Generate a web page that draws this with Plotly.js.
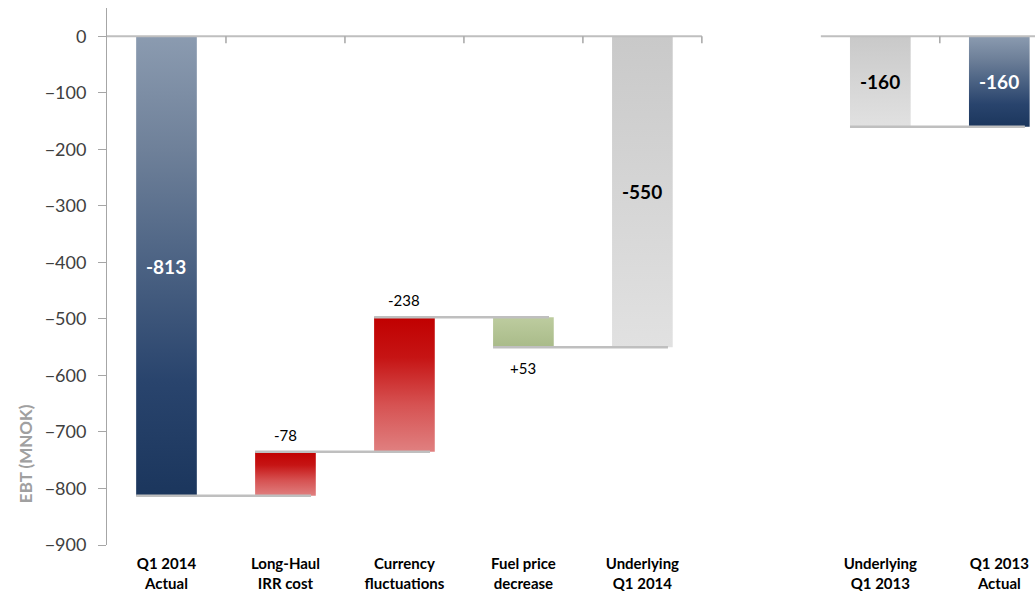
<!DOCTYPE html>
<html>
<head>
<meta charset="utf-8">
<script src="https://cdn.plot.ly/plotly-3.0.1.min.js"></script>
<style>
  html, body { margin: 0; padding: 0; background: #ffffff; overflow: hidden; }
  #chart { width: 1035px; height: 596px; }
</style>
</head>
<body>
<div id="chart"></div>
<script>
// ---------------- data ----------------
const categories = [
  'Q1 2014<br>Actual',
  'Long-Haul<br>IRR cost',
  'Currency<br>fluctuations',
  'Fuel price<br>decrease',
  'Underlying<br>Q1 2014',
  'Underlying<br>Q1 2013',
  'Q1 2013<br>Actual'
];
const xPositions = [0, 1, 2, 3, 4, 6, 7];
const values = [-813, -78, -238, 53, -550, -160, -160];
const measures = ['total', 'relative', 'relative', 'relative', 'total', 'total', 'total'];
const barKinds = ['actual', 'cost', 'cost', 'gain', 'underlying', 'underlying', 'actual'];
const valueLabels = ['-813', '-78', '-238', '+53', '-550', '-160', '-160'];
const yTickValues = [0, -100, -200, -300, -400, -500, -600, -700, -800, -900];
const yTitle = 'EBT (MNOK)';

// ---------------- styles ----------------
const FONT = 'Lato, "Open Sans", sans-serif';
const HALF_W = 0.255;
const gradients = {
  actual: [[0, '#1b365d'], [0.25, '#29446d'], [0.5, '#4b6283'], [0.75, '#6e8099'], [1, '#8b9bb0']],
  cost: [[0, '#e08080'], [0.35, '#d65252'], [0.7, '#c61414'], [1, '#c00000']],
  gain: [[0, '#a9bb89'], [1, '#bdcc9f']],
  underlying: [[0, '#e1e1e1'], [1, '#c9c9c9']]
};
const insideLabelColor = { actual: '#ffffff', underlying: '#000000' };
const GRID_GRAY = '#bfbfbf';

// ---------------- compute waterfall extents ----------------
const lows = [], highs = [], levels = [];
let level = 0;
values.forEach((v, i) => {
  if (measures[i] === 'total') {
    lows.push(Math.min(0, v)); highs.push(Math.max(0, v));
    level = v;
  } else {
    const next = level - v;
    lows.push(Math.min(level, next)); highs.push(Math.max(level, next));
    level = next;
  }
  levels.push(level);
});

const traces = [];
xPositions.forEach((x, i) => {
  const lo = lows[i], hi = highs[i];
  traces.push({
    type: 'scatter',
    mode: 'none',
    x: [x - HALF_W, x + HALF_W, x + HALF_W, x - HALF_W, x - HALF_W],
    y: [lo, lo, hi, hi, lo],
    fill: 'toself',
    fillcolor: gradients[barKinds[i]][gradients[barKinds[i]].length - 1][1],
    fillgradient: { type: 'vertical', colorscale: gradients[barKinds[i]], start: lo, stop: hi },
    hoverinfo: 'skip',
    showlegend: false
  });
});

// connectors
const cx = [], cy = [];
for (let i = 0; i < xPositions.length - 1; i++) {
  if (xPositions[i + 1] - xPositions[i] === 1) {
    cx.push(xPositions[i] - HALF_W, xPositions[i + 1] + HALF_W - 0.04, null);
    cy.push(levels[i], levels[i], null);
  }
}
traces.push({
  type: 'scatter', mode: 'lines', x: cx, y: cy,
  line: { color: GRID_GRAY, width: 2.5 }, hoverinfo: 'skip', showlegend: false
});

// zero baseline segments + category boundary ticks
const shapes = [];
const groups = [[0, 4], [6, 7]];
groups.forEach(([a, b]) => {
  shapes.push({ type: 'line', xref: 'x', yref: 'y', x0: a - 0.5, x1: b + 0.5, y0: 0, y1: 0,
    line: { color: GRID_GRAY, width: 2 } });
  for (let p = a; p <= b; p++) {
    shapes.push({ type: 'line', xref: 'x', yref: 'y', ysizemode: 'pixel', yanchor: 0,
      x0: p + 0.5, x1: p + 0.5, y0: 0, y1: -7, line: { color: '#a6a6a6', width: 1.5 } });
  }
});

// labels
const annotations = [];
xPositions.forEach((x, i) => {
  const kind = barKinds[i];
  if (measures[i] === 'total') {
    annotations.push({ x: x, y: (lows[i] + highs[i]) / 2, xref: 'x', yref: 'y',
      text: '<b>' + valueLabels[i] + '</b>', showarrow: false,
      font: { family: FONT, size: 19, color: insideLabelColor[kind] } });
  } else if (kind === 'cost') {
    annotations.push({ x: x, y: highs[i], xref: 'x', yref: 'y', yanchor: 'bottom', yshift: 6,
      text: valueLabels[i], showarrow: false, font: { family: FONT, size: 15, color: '#000000' } });
  } else {
    annotations.push({ x: x, y: lows[i], xref: 'x', yref: 'y', yanchor: 'top', yshift: -10,
      text: valueLabels[i], showarrow: false, font: { family: FONT, size: 15, color: '#000000' } });
  }
});
annotations.push({ xref: 'paper', yref: 'paper', x: -0.0884, y: 0.171,
  xanchor: 'center', yanchor: 'middle', textangle: -90,
  text: '<b>' + yTitle + '</b>', showarrow: false,
  font: { family: FONT, size: 17, color: '#a0a0a0' } });

const layout = {
  width: 1035, height: 596,
  margin: { l: 107, r: 0, t: 8, b: 51, pad: 0 },
  paper_bgcolor: '#ffffff', plot_bgcolor: '#ffffff',
  showlegend: false,
  xaxis: {
    range: [-0.5, 7.3], tickmode: 'array', tickvals: xPositions,
    ticktext: categories.map(c => '<b>' + c + '</b>'),
    showline: false, showgrid: false, zeroline: false, ticks: '',
    ticklabelstandoff: 8,
    tickfont: { family: FONT, size: 15, color: '#000000' }, fixedrange: true
  },
  yaxis: {
    range: [-900, 50], tickmode: 'array', tickvals: yTickValues,
    showline: true, linecolor: '#a6a6a6', linewidth: 1,
    ticks: 'outside', ticklen: 8, tickcolor: '#a6a6a6', tickwidth: 1,
    showgrid: false, zeroline: false, ticklabelstandoff: 8,
    tickfont: { family: FONT, size: 18, color: '#404040' }, fixedrange: true
  },
  shapes: shapes,
  annotations: annotations
};

Plotly.newPlot('chart', traces, layout, { displayModeBar: false, staticPlot: true });
</script>
</body>
</html>
